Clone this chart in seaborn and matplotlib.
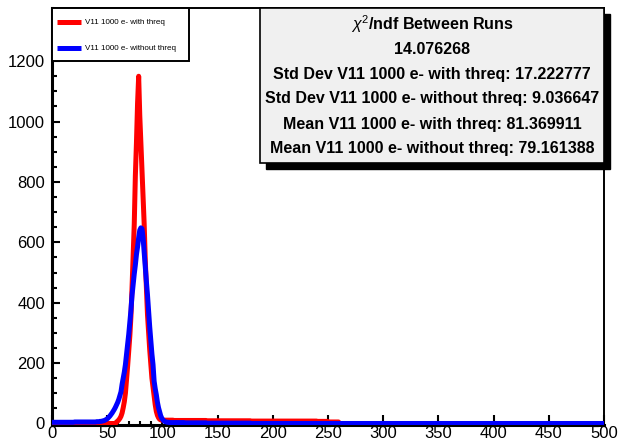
import numpy as np
import pandas as pd
import matplotlib
matplotlib.use("Agg")
import matplotlib.pyplot as plt
import seaborn as sns
from matplotlib.patches import Rectangle
from matplotlib.lines import Line2D
from matplotlib.ticker import MultipleLocator

# ---------------- data ----------------
series_names = ["V11 1000 e- with threq", "V11 1000 e- without threq"]
series_colors = ["#ff0000", "#0000ff"]
n_bins = 500
x_range = (0, 500)

# red: "with threq" -- bins of width 1
red_core_start = 58
red_core = [5, 8, 12, 17, 24, 35, 52, 72, 100, 145,
            190, 240, 290, 355, 450, 560, 660, 820, 930, 1060,
            1150, 1020, 930, 840, 750, 660, 540, 450, 360, 300,
            245, 195, 150, 120, 90, 62, 40, 27, 19, 14,
            12, 11]
red_tail_start = 100
red_tail_per10 = [11, 10, 10, 10, 9, 9, 9, 9, 8, 8, 8, 8, 8, 8, 7, 5]

# blue: "without threq"
blue_low_per10 = [4, 4, 5, 5]
blue_core_start = 40
blue_core = [6, 6, 6, 7, 7, 8, 9, 10, 12, 14,
             17, 21, 25, 30, 35, 41, 47, 54, 62, 70,
             80, 92, 105, 130, 150, 170, 195, 230, 262, 295,
             335, 375, 425, 460, 495, 525, 560, 585, 615, 640,
             648, 645, 615, 565, 520, 470, 425, 370, 320, 275,
             230, 195, 140, 115, 95, 70, 52, 38, 25, 17,
             12, 8, 6, 5, 4, 4, 3, 3, 3, 3]
blue_tail_start = 110
blue_tail_per10 = [3, 2, 2, 1, 1, 1, 1]

stats_lines = [r"$\chi^{2}$/ndf Between Runs",
               "14.076268",
               "Std Dev V11 1000 e- with threq: 17.222777",
               "Std Dev V11 1000 e- without threq: 9.036647",
               "Mean V11 1000 e- with threq: 81.369911",
               "Mean V11 1000 e- without threq: 79.161388"]

# ---------------- build histograms ----------------
red = np.zeros(n_bins)
red[red_core_start:red_core_start + len(red_core)] = red_core
red[red_tail_start:red_tail_start + 10 * len(red_tail_per10)] = np.repeat(red_tail_per10, 10)

blue = np.zeros(n_bins)
blue[0:10 * len(blue_low_per10)] = np.repeat(blue_low_per10, 10)
blue[blue_core_start:blue_core_start + len(blue_core)] = blue_core
blue[blue_tail_start:blue_tail_start + 10 * len(blue_tail_per10)] = np.repeat(blue_tail_per10, 10)

edges = np.linspace(x_range[0], x_range[1], n_bins + 1)
centers = 0.5 * (edges[:-1] + edges[1:])
df = pd.DataFrame({
    "x": np.concatenate([centers, centers]),
    "count": np.concatenate([red, blue]),
    "series": [series_names[0]] * n_bins + [series_names[1]] * n_bins,
})

# ---------------- style ----------------
sns.set_theme(style="ticks")
plt.rcParams["font.family"] = ["Liberation Sans", "DejaVu Sans"]
plt.rcParams["mathtext.fontset"] = "custom"
plt.rcParams["mathtext.rm"] = "Liberation Sans"
plt.rcParams["mathtext.it"] = "Liberation Sans:italic"
plt.rcParams["mathtext.bf"] = "Liberation Sans:bold"

W, H = 619, 443
fig = plt.figure(figsize=(W / 100, H / 100), dpi=100, facecolor="white")


def fx(px):
    return px / W


def fy(py):
    return (H - py) / H


ax_l, ax_r, ax_t, ax_b = 52, 604, 8, 425
ax = fig.add_axes([fx(ax_l), fy(ax_b), (ax_r - ax_l) / W, (ax_b - ax_t) / H])
ax.set_facecolor("white")

sns.lineplot(data=df, x="x", y="count", hue="series", hue_order=series_names,
             palette=series_colors, linewidth=3.6, legend=False,
             estimator=None, sort=False, ax=ax, zorder=3)

ax.set_xlim(0, 500)
ax.set_ylim(-5, 1376)
ax.set_xlabel("")
ax.set_ylabel("")

ax.xaxis.set_major_locator(MultipleLocator(50))
ax.xaxis.set_minor_locator(MultipleLocator(10))
ax.yaxis.set_major_locator(MultipleLocator(200))
ax.yaxis.set_minor_locator(MultipleLocator(50))
ax.tick_params(axis="x", which="major", direction="in", length=7, width=1.5,
               color="black", labelsize=12, pad=0.5, labelcolor="black")
ax.tick_params(axis="x", which="minor", direction="in", length=3, width=1.5, color="black")
ax.tick_params(axis="y", which="major", direction="in", length=6, width=1.5,
               color="black", labelsize=12, pad=5, labelcolor="black")
ax.tick_params(axis="y", which="minor", direction="in", length=3.5, width=1.5, color="black")
for side in ["left", "bottom"]:
    ax.spines[side].set_linewidth(2.2)
    ax.spines[side].set_color("black")
for side in ["top", "right"]:
    ax.spines[side].set_linewidth(1.4)
    ax.spines[side].set_color("black")
ax.grid(False)

# ---------------- legend (ROOT-style box) ----------------
lg_x0, lg_x1, lg_y0, lg_y1 = 52, 189, 8, 61
fig.patches.append(Rectangle((fx(lg_x0), fy(lg_y1)), (lg_x1 - lg_x0) / W, (lg_y1 - lg_y0) / H,
                             transform=fig.transFigure, facecolor="white", edgecolor="black",
                             linewidth=1.4, zorder=8))
entry_y = [22, 48]
for name, col, ey in zip(series_names, series_colors, entry_y):
    fig.add_artist(Line2D([fx(57), fx(81)], [fy(ey), fy(ey)], transform=fig.transFigure,
                          color=col, lw=3.6, solid_capstyle="butt", zorder=9))
    fig.text(fx(85), fy(ey), name, ha="left", va="center", fontsize=5.8,
             color="black", zorder=9)

# ---------------- stats box ----------------
bx0, bx1, by0, by1 = 260, 604, 8, 163
sh = 6
fig.patches.append(Rectangle((fx(bx0 + sh), fy(by1 + sh)), (bx1 - bx0) / W, (by1 - by0) / H,
                             transform=fig.transFigure, facecolor="black", edgecolor="black",
                             zorder=10))
fig.patches.append(Rectangle((fx(bx0), fy(by1)), (bx1 - bx0) / W, (by1 - by0) / H,
                             transform=fig.transFigure, facecolor="#f0f0f0", edgecolor="black",
                             linewidth=1.2, zorder=11))
line_y = [24, 49, 74, 99, 124, 148]
cx = (bx0 + bx1) / 2
for txt, ly in zip(stats_lines, line_y):
    fig.text(fx(cx), fy(ly), txt, ha="center", va="center", fontsize=11.5,
             fontweight="bold", color="black", zorder=12)

fig.savefig("out.png", dpi=100, facecolor="white")
